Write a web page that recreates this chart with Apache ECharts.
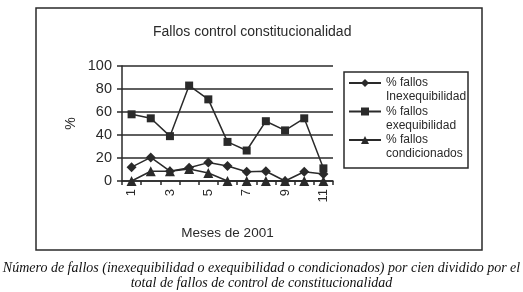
<!DOCTYPE html>
<html>
<head>
<meta charset="utf-8">
<script src="https://cdn.jsdelivr.net/npm/echarts@6/dist/echarts.min.js"></script>
<style>
  html, body { margin: 0; padding: 0; background: #fff; }
  #chart { width: 523px; height: 292px; }
</style>
</head>
<body>
<div id="chart"></div>
<script>
// meses 1..11 de 2001
var months = ['1', '2', '3', '4', '5', '6', '7', '8', '9', '10', '11'];
var inexequibilidad = [12, 20.5, 8.5, 11.5, 16, 13, 8, 8.5, 0, 8, 6];
var exequibilidad = [58, 54.5, 39, 83, 71, 34, 26.5, 52, 44, 54.5, 11];
var condicionados = [0, 8.5, 8.5, 10.5, 7, 0, 0, 0, 0, 0, 0];
var yTicks = [0, 20, 40, 60, 80, 100];

var ink = '#2a2a2a';
var sans = 'Liberation Sans, Arial, sans-serif';

var chart = echarts.init(document.getElementById('chart'));

function serie(name, data, symbol, size) {
  return {
    name: name,
    type: 'line',
    data: data,
    symbol: symbol,
    symbolSize: size,
    color: ink,
    lineStyle: { color: ink, width: 1.5 },
    itemStyle: { color: ink },
    animation: false
  };
}

var option = {
  backgroundColor: '#ffffff',
  title: [
    {
      text: 'Fallos control constitucionalidad',
      left: 148,
      top: 20,
      textStyle: { fontFamily: sans, fontSize: 14, fontWeight: 'normal', color: ink }
    },
    {
      text: 'Número de fallos (inexequibilidad o exequibilidad o condicionados) por cien dividido por el\ntotal de fallos de control de constitucionalidad',
      left: 'center',
      top: 256,
      textStyle: {
        fontFamily: 'Liberation Serif, Times New Roman, serif',
        fontStyle: 'italic', fontWeight: 'normal', fontSize: 14,
        lineHeight: 15, color: '#111', align: 'center'
      }
    }
  ],
  graphic: [
    { type: 'rect', shape: { x: 36, y: 8, width: 446, height: 242 },
      style: { fill: 'none', stroke: ink, lineWidth: 1.5 } },
    { type: 'rect', shape: { x: 344, y: 72, width: 124, height: 96 },
      style: { fill: 'none', stroke: ink, lineWidth: 1.5 } }
  ],
  legend: {
    orient: 'vertical',
    left: 344,
    top: 62,
    padding: [0, 2, 0, 4],
    itemWidth: 32,
    itemHeight: 10,
    itemGap: -13.5,
    // a leading empty line keeps the marker level with the first text line
    formatter: function (name) { return '\n' + name; },
    textStyle: { fontFamily: sans, fontSize: 12, color: ink, lineHeight: 14 },
    data: ['% fallos\nInexequibilidad', '% fallos\nexequibilidad', '% fallos\ncondicionados']
  },
  grid: { left: 122, right: 190, top: 66, bottom: 111 },
  xAxis: {
    type: 'category',
    data: months,
    boundaryGap: true,
    name: 'Meses de 2001',
    nameLocation: 'middle',
    nameGap: 45,
    nameTextStyle: { fontFamily: sans, fontSize: 13.5, color: ink },
    axisLine: { lineStyle: { color: ink, width: 1.5 } },
    axisTick: { show: true, interval: 0, length: 4, lineStyle: { color: ink, width: 1.5 } },
    axisLabel: { interval: 1, rotate: 90, margin: 8, fontFamily: sans, fontSize: 13, color: ink },
    splitLine: { show: false }
  },
  yAxis: {
    type: 'value',
    min: yTicks[0],
    max: yTicks[yTicks.length - 1],
    interval: 20,
    name: '%',
    nameLocation: 'middle',
    nameRotate: 90,
    nameGap: 44,
    nameTextStyle: { fontFamily: sans, fontSize: 14, color: ink },
    axisLine: { show: true, lineStyle: { color: ink, width: 1.5 } },
    axisTick: { show: true, length: 5, lineStyle: { color: ink, width: 1.5 } },
    axisLabel: { margin: 10, fontFamily: sans, fontSize: 14.5, color: ink },
    splitLine: { show: true, lineStyle: { color: ink, width: 1.5 } }
  },
  series: [
    serie('% fallos\nInexequibilidad', inexequibilidad, 'diamond', 10),
    serie('% fallos\nexequibilidad', exequibilidad, 'rect', 8),
    serie('% fallos\ncondicionados', condicionados, 'triangle', 10)
  ]
};

chart.setOption(option);
</script>
</body>
</html>
